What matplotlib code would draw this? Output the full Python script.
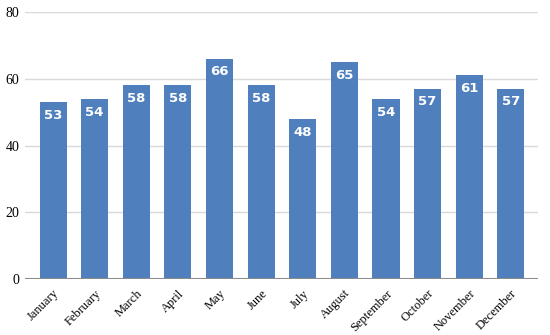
import matplotlib.pyplot as plt
import numpy as np

months = ['January', 'February', 'March', 'April', 'May', 'June',
          'July', 'August', 'September', 'October', 'November', 'December']
values = [53, 54, 58, 58, 66, 58, 48, 65, 54, 57, 61, 57]
yticks = [0, 20, 40, 60, 80]

fig = plt.figure(figsize=(5.5, 3.35), dpi=100)
ax = fig.add_axes([0.045, 0.167, 0.933, 0.797])

x = np.arange(len(months))
bars = ax.bar(x, values, width=0.65, color='#4f7fbd', zorder=3)

for b, v in zip(bars, values):
    ax.text(b.get_x() + b.get_width() / 2, v - 2.0, str(v), ha='center', va='top',
            color='white', fontsize=9.5, fontweight='bold', family='DejaVu Sans', zorder=4)

ax.set_xlim(-0.68, 11.65)
ax.set_ylim(0, 80)
ax.set_yticks(yticks)
ax.set_yticklabels([str(t) for t in yticks], family='Liberation Serif', fontsize=10)
ax.set_xticks(x)
ax.set_xticklabels(months, rotation=45, ha='right', rotation_mode='anchor',
                   family='Liberation Serif', fontsize=9)
ax.tick_params(axis='both', length=0, pad=4)
ax.tick_params(axis='x', pad=6)

for t in yticks[1:]:
    ax.axhline(t, color='#d9d9d9', lw=1, zorder=1)
ax.axhline(0, color='#8c8c8c', lw=1.5, zorder=5)

for s in ax.spines.values():
    s.set_visible(False)

fig.savefig('out.png', dpi=100)
